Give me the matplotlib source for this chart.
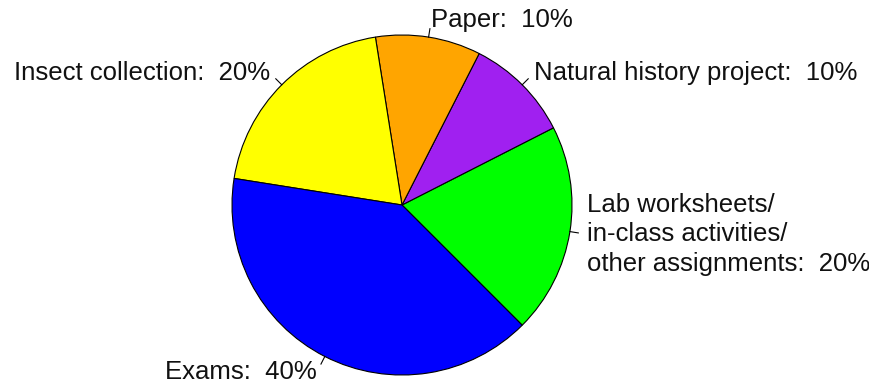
import numpy as np
import matplotlib
matplotlib.use("Agg")
import matplotlib.pyplot as plt

# grade components, counterclockwise from the lower right
categories = [
    "Lab worksheets/\nin-class activities/\nother assignments",
    "Natural history project",
    "Paper",
    "Insect collection",
    "Exams",
]
percents = [20, 10, 10, 20, 40]
colors = ["#00FF00", "#A020F0", "#FFA500", "#FFFF00", "#0000FF"]

labels = [f"{c}:  {p}%" for c, p in zip(categories, percents)]

plt.rcParams["font.family"] = ["Liberation Sans", "DejaVu Sans"]

fig = plt.figure(figsize=(8.7, 3.83), dpi=100)
ax = fig.add_axes([0, 0, 1, 1])

cx, cy, r = 402, 178, 170
wedges, texts = ax.pie(
    percents,
    colors=colors,
    labels=labels,
    startangle=-45,
    counterclock=True,
    center=(cx, cy),
    radius=r,
    labeldistance=1.1,
    wedgeprops=dict(edgecolor="black", linewidth=0.8),
    textprops=dict(fontsize=18.5, color="#111111", linespacing=1.28),
    frame=True,
)
ax.set_xlim(0, 870)
ax.set_ylim(0, 383)
ax.set_aspect("equal")
ax.axis("off")

# R-style alignment: left of centre -> right aligned
for t in texts:
    x, _ = t.get_position()
    t.set_ha("right" if x < cx else "left")

# small tick marks from the rim out to 1.05 r
for w in wedges:
    mid = np.deg2rad((w.theta1 + w.theta2) / 2)
    ax.plot([cx + r * np.cos(mid), cx + 1.05 * r * np.cos(mid)],
            [cy + r * np.sin(mid), cy + 1.05 * r * np.sin(mid)],
            color="black", linewidth=0.8)

fig.savefig("out.png", dpi=100)
